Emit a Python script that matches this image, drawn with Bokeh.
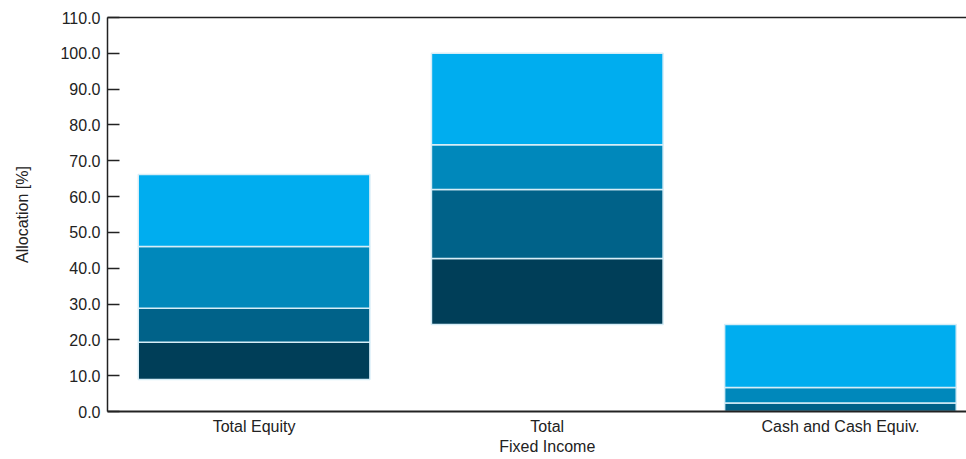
from bokeh.plotting import figure
from bokeh.models import ColumnDataSource, Range1d, FixedTicker, NumeralTickFormatter, LinearAxis
from bokeh.embed import file_html
from bokeh.resources import INLINE

categories = ["Total Equity", "Total\nFixed Income", "Cash and Cash Equiv."]
p5 = [8.9, 24.3, 0.0]
p25 = [19.3, 42.7, 0.0]
p50 = [28.8, 62.0, 2.4]
p75 = [46.1, 74.5, 6.7]
p95 = [66.2, 100.0, 24.3]
y_ticks = [0, 10, 20, 30, 40, 50, 60, 70, 80, 90, 100, 110]
colors = ["#003E58", "#006289", "#0088BB", "#00ADEF"]

xs = list(range(len(categories)))
FONT = "Liberation Sans"

p = figure(width=966, height=459, output_backend="svg", toolbar_location=None,
           x_range=Range1d(-0.5, 2.43), y_range=Range1d(0, 110),
           min_border_left=107, min_border_top=17, min_border_right=0, min_border_bottom=48)
p.grid.visible = False
p.outline_line_color = None
p.background_fill_color = "white"

bounds = [p5, p25, p50, p75, p95]
for i in range(4):
    src = ColumnDataSource(dict(x=xs, bottom=bounds[i], top=bounds[i + 1]))
    p.vbar(x="x", bottom="bottom", top="top", width=0.79, source=src,
           fill_color=colors[i], line_color="#d6edf7", line_width=1.5)

# y axis
ya = p.yaxis[0]
ya.ticker = FixedTicker(ticks=y_ticks)
ya.formatter = NumeralTickFormatter(format="0.0")
ya.major_tick_in = 12
ya.major_tick_out = 0
ya.minor_tick_line_color = None
ya.axis_line_color = "#222222"
ya.axis_line_width = 1.5
ya.major_tick_line_color = "#222222"
ya.major_tick_line_width = 1.5
ya.major_label_text_font = FONT
ya.major_label_text_font_size = "16px"
ya.major_label_text_color = "#222222"
ya.major_label_standoff = 7
ya.axis_label = "Allocation [%]"
ya.axis_label_text_font = FONT
ya.axis_label_text_font_size = "16px"
ya.axis_label_text_font_style = "normal"
ya.axis_label_text_color = "#222222"
ya.axis_label_standoff = 26

# x axis
xa = p.xaxis[0]
xa.ticker = FixedTicker(ticks=xs)
xa.major_label_overrides = {i: c for i, c in zip(xs, categories)}
xa.major_tick_line_color = None
xa.minor_tick_line_color = None
xa.axis_line_color = "#222222"
xa.axis_line_width = 2
xa.major_label_text_font = FONT
xa.major_label_text_font_size = "16px"
xa.major_label_text_color = "#222222"
xa.major_label_standoff = 0

# top border line
top = LinearAxis(ticker=FixedTicker(ticks=[]), axis_line_color="#222222", axis_line_width=1.5,
                 major_tick_line_color=None, minor_tick_line_color=None,
                 major_label_text_font_size="0px")
p.add_layout(top, "above")

open("out.html", "w").write(file_html(p, INLINE))
